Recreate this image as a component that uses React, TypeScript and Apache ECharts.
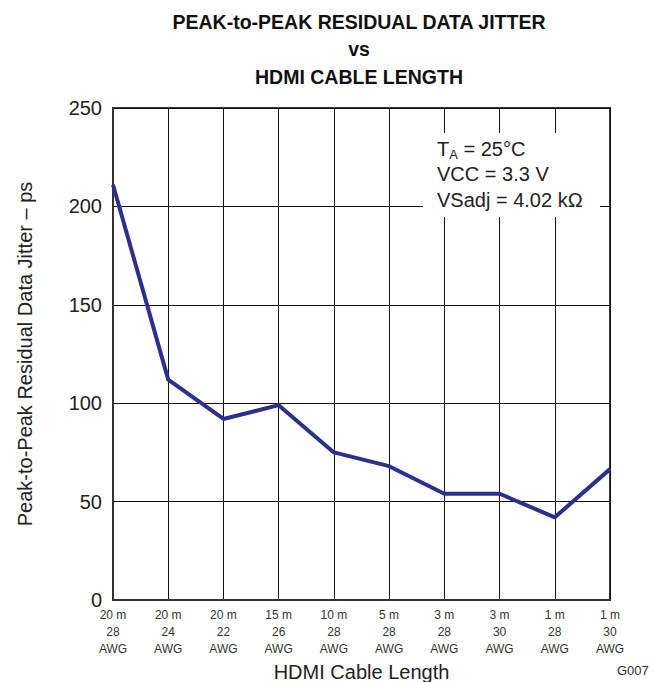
import React, { useEffect, useRef } from "react";
import * as echarts from "echarts";

const categories = [
  "20 m\n28\nAWG", "20 m\n24\nAWG", "20 m\n22\nAWG", "15 m\n26\nAWG", "10 m\n28\nAWG",
  "5 m\n28\nAWG", "3 m\n28\nAWG", "3 m\n30\nAWG", "1 m\n28\nAWG", "1 m\n30\nAWG",
];
const jitter = [211, 112, 92, 99, 75, 68, 54, 54, 42, 66.5];
const titleLines = ["PEAK-to-PEAK RESIDUAL DATA JITTER", "vs", "HDMI CABLE LENGTH"];
const yName = "Peak-to-Peak Residual Data Jitter – ps";
const xName = "HDMI Cable Length";

const FONT = "'Liberation Sans', Arial, Helvetica, sans-serif";

export default function App() {
  const ref = useRef<HTMLDivElement>(null);
  useEffect(() => {
    document.body.style.margin = "0";
    const chart = echarts.init(ref.current!, null, { renderer: "svg" });
    chart.setOption({
      animation: false,
      backgroundColor: "#fff",
      textStyle: { fontFamily: FONT },
      title: {
        text: titleLines.join("\n"),
        left: 359,
        textAlign: "center",
        top: 8,
        padding: 0,
        textStyle: { fontFamily: FONT, fontSize: 19.5, fontWeight: "bold", color: "#111", lineHeight: 27.5 },
      },
      grid: {
        left: 113, right: 50, top: 108, bottom: 82,
        containLabel: false,
        outerBoundsMode: "none",
        show: true, borderColor: "#333", borderWidth: 2, backgroundColor: "transparent",
      },
      xAxis: {
        type: "category",
        data: categories,
        boundaryGap: false,
        name: xName,
        nameLocation: "middle",
        nameGap: 57,
        nameTextStyle: { fontFamily: FONT, fontSize: 20, color: "#222" },
        axisLine: { show: true, lineStyle: { color: "#333", width: 2 } },
        axisTick: { show: false },
        axisLabel: { fontFamily: FONT, fontSize: 12, color: "#333", lineHeight: 17, margin: 6, interval: 0 },
        splitLine: { show: true, lineStyle: { color: "#111", width: 1 } },
      },
      yAxis: {
        type: "value",
        min: 0,
        max: 250,
        interval: 50,
        name: yName,
        nameLocation: "middle",
        nameGap: 78,
        nameTextStyle: { fontFamily: FONT, fontSize: 20, color: "#222" },
        axisLine: { show: true, lineStyle: { color: "#333", width: 2 } },
        axisTick: { show: false },
        axisLabel: { fontFamily: FONT, fontSize: 20, color: "#222", margin: 11 },
        splitLine: { show: true, lineStyle: { color: "#111", width: 1 } },
      },
      series: [
        {
          type: "line",
          data: jitter,
          symbol: "none",
          lineStyle: { color: "#2b3090", width: 4 },
          z: 5,
        },
      ],
      graphic: [
        { type: "rect", shape: { x: 423, y: 133, width: 177, height: 84 }, style: { fill: "#fff" }, z: 3 },
        {
          type: "text",
          x: 437,
          y: 136,
          z: 4,
          style: {
            text: "{n|T}{s|A}{n| = 25°C}\n{n|VCC = 3.3 V}\n{n|VSadj = 4.02 kΩ}",
            font: "20px " + FONT,
            fill: "#222",
            rich: {
              n: { fontSize: 20, lineHeight: 25.5, fontFamily: FONT, fill: "#222" },
              s: { fontSize: 13, lineHeight: 25.5, fontFamily: FONT, fill: "#222", padding: [11, 0, 0, 0] },
            },
          },
        },
        {
          type: "text",
          x: 617,
          y: 664,
          style: { text: "G007", font: "13px " + FONT, fill: "#333" },
        },
      ],
    });
    return () => chart.dispose();
  }, []);
  return <div ref={ref} style={{ width: 660, height: 682 }} />;
}
